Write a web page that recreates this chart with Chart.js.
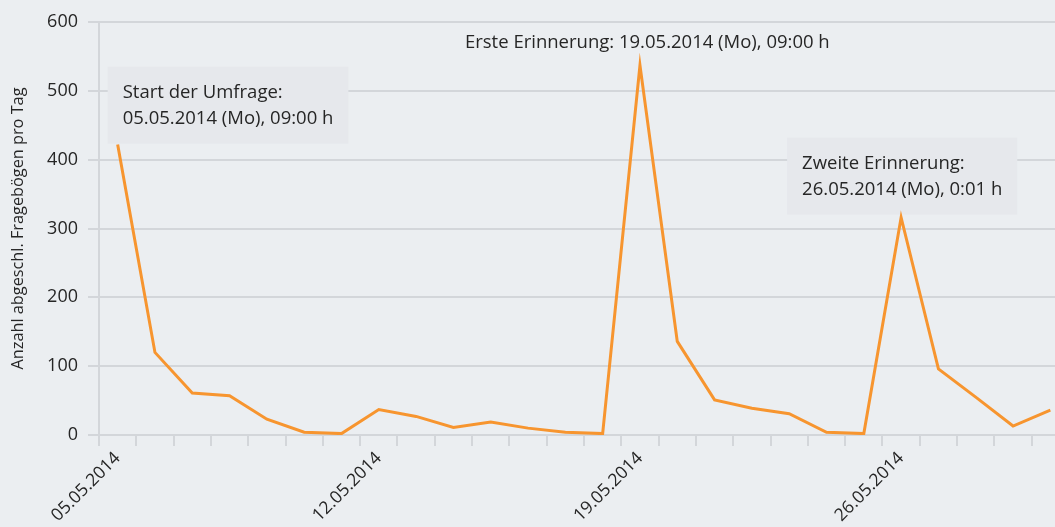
<!DOCTYPE html>
<html>
<head>
<meta charset="utf-8">
<script src="https://cdn.jsdelivr.net/npm/chart.js@4"></script>
<style>
  html, body { margin: 0; padding: 0; background: #ebeef1; overflow: hidden; }
  #wrap { width: 1070px; height: 527px; }
</style>
</head>
<body>
<div id="wrap"><canvas id="c" width="1070" height="527"></canvas></div>
<script>
// ---- data ----
const days = [
  '05.05.2014','06.05.2014','07.05.2014','08.05.2014','09.05.2014','10.05.2014','11.05.2014',
  '12.05.2014','13.05.2014','14.05.2014','15.05.2014','16.05.2014','17.05.2014','18.05.2014',
  '19.05.2014','20.05.2014','21.05.2014','22.05.2014','23.05.2014','24.05.2014','25.05.2014',
  '26.05.2014','27.05.2014','28.05.2014','29.05.2014','30.05.2014'
];
const questionnaires = [
  422, 120, 61, 57, 23, 4, 2,
  37, 27, 11, 19, 10, 4, 2,
  537, 136, 51, 39, 31, 4, 2,
  316, 96, 55, 13, 36
];
const shownTickLabels = ['05.05.2014', '12.05.2014', '19.05.2014', '26.05.2014'];
const yTicks = [0, 100, 200, 300, 400, 500, 600];
const yTitle = 'Anzahl abgeschl. Fragebögen pro Tag';
const noteStart = ['Start der Umfrage:', '05.05.2014 (Mo), 09:00 h'];
const noteFirst = ['Erste Erinnerung: 19.05.2014 (Mo), 09:00 h'];
const noteSecond = ['Zweite Erinnerung:', '26.05.2014 (Mo), 0:01 h'];

// ---- annotation placement (anchored to data coordinates) ----
const notes = [
  { lines: noteStart,  day: '05.05.2014', value: 535, dx: -10,  box: true },
  { lines: noteFirst,  day: '19.05.2014', value: 607, dx: -190, box: false },
  { lines: noteSecond, day: '26.05.2014', value: 432, dx: -114, box: true }
];

const FONT = "'Open Sans', 'DejaVu Sans', sans-serif";
const TEXT = '#262626';

const notesPlugin = {
  id: 'notes',
  beforeDatasetsDraw(chart) {
    const ctx = chart.ctx;
    const xs = chart.scales.x, ys = chart.scales.y;
    ctx.save();
    ctx.font = '18.5px ' + FONT;
    ctx.textBaseline = 'alphabetic';
    ctx.textAlign = 'left';
    notes.forEach(n => {
      const x = xs.getPixelForValue(days.indexOf(n.day)) + n.dx;
      const y = ys.getPixelForValue(n.value);
      const w = Math.max(...n.lines.map(l => ctx.measureText(l).width)) + 30;
      const h = 77;
      if (n.box) {
        ctx.fillStyle = '#e6e8ec';
        ctx.fillRect(x, y, w, h);
      }
      ctx.fillStyle = TEXT;
      n.lines.forEach((l, i) => ctx.fillText(l, x + 15, y + 31 + i * 26));
    });
    ctx.restore();
  }
};

new Chart(document.getElementById('c'), {
  type: 'line',
  data: {
    labels: days,
    datasets: [{
      data: questionnaires,
      borderColor: '#f7952f',
      backgroundColor: '#f7952f',
      borderWidth: 3,
      pointRadius: 0,
      tension: 0,
      fill: false
    }]
  },
  options: {
    responsive: false,
    animation: false,
    layout: { padding: { top: 22, right: 1, bottom: 0, left: 0 } },
    plugins: { legend: { display: false }, tooltip: { enabled: false } },
    scales: {
      x: {
        type: 'category',
        offset: true,
        grid: { offset: true, drawOnChartArea: false, drawTicks: true, tickLength: 11, color: '#d3d6da', lineWidth: 2 },
        border: { display: true, color: '#d3d6da', width: 2 },
        ticks: {
          autoSkip: false,
          maxRotation: 45, minRotation: 45,
          color: TEXT,
          font: { family: FONT, size: 17.5 },
          padding: 2,
          callback(v) { const l = days[v]; return shownTickLabels.includes(l) ? l : ''; }
        },
        afterFit(s) { s.height = 92; }
      },
      y: {
        min: 0, max: 600,
        afterBuildTicks(s) { s.ticks = yTicks.map(v => ({ value: v })); },
        grid: { color: '#d3d6da', lineWidth: 2, tickLength: 11, drawTicks: true },
        border: { display: true, color: '#d3d6da', width: 2 },
        ticks: { color: TEXT, font: { family: FONT, size: 18 }, padding: 10 },
        title: { display: true, text: yTitle, color: TEXT, font: { family: FONT, size: 16.3 }, padding: { top: 9, bottom: 0 } },
        afterFit(s) { s.width = 99; }
      }
    }
  },
  plugins: [notesPlugin]
});
</script>
</body>
</html>
